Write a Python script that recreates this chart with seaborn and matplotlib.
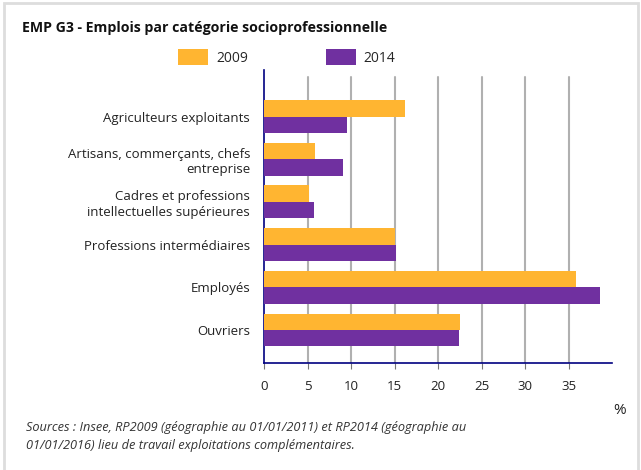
import numpy as np
import pandas as pd
import matplotlib
matplotlib.use("Agg")
import matplotlib.pyplot as plt
import seaborn as sns
from matplotlib.patches import Patch, Rectangle

categories = [
    "Agriculteurs exploitants",
    "Artisans, commerçants, chefs\nentreprise",
    "Cadres et professions\nintellectuelles supérieures",
    "Professions intermédiaires",
    "Employés",
    "Ouvriers",
]
years = ["2009", "2014"]
values_2009 = [16.2, 5.8, 5.2, 15.0, 35.9, 22.5]
values_2014 = [9.5, 9.1, 5.7, 15.2, 38.6, 22.4]
xticks = [0, 5, 10, 15, 20, 25, 30, 35]

colors = {"2009": "#FFB531", "2014": "#7030A0"}

df = pd.DataFrame({
    "categorie": categories * 2,
    "annee": ["2009"] * len(categories) + ["2014"] * len(categories),
    "valeur": values_2009 + values_2014,
})

sns.set_style("white")
plt.rcParams["font.family"] = ["Open Sans", "DejaVu Sans"]

fig = plt.figure(figsize=(6.41, 4.70), dpi=100)
ax = fig.add_axes([0.412, 0.228, 0.543, 0.623])

sns.barplot(data=df, y="categorie", x="valeur", hue="annee", palette=colors,
            orient="h", width=0.77, saturation=1, ax=ax, legend=False,
            edgecolor="none", zorder=3)

ax.set_xlim(0, 40)
ax.set_ylim(5.77, -1.09)
ax.set_xticks(xticks)
ax.set_xticklabels([str(t) for t in xticks], fontsize=9.5, color="#222222")
ax.tick_params(axis="x", length=4, width=0.8, color="#777777", pad=8, bottom=True)
ax.tick_params(axis="y", length=0, labelsize=9.5, labelcolor="#222222", pad=10)
for lab in ax.get_yticklabels():
    lab.set_linespacing(1.25)
ax.set_xlabel("")
ax.set_ylabel("")

for x in xticks[1:]:
    ax.axvline(x, ymin=0, ymax=0.975, color="#b0b0b0", lw=1.5, zorder=1)

for s in ["top", "right"]:
    ax.spines[s].set_visible(False)
ax.spines["left"].set_color("#000080")
ax.spines["bottom"].set_color("#000080")
ax.spines["left"].set_linewidth(1.2)
ax.spines["bottom"].set_linewidth(1.2)

fig.text(0.034, 0.94, "EMP G3 - Emplois par catégorie socioprofessionnelle",
         fontsize=10.2, fontweight="bold", color="#111111", va="center")

handles = [Patch(facecolor=colors[y], edgecolor="none", label=y) for y in years]
fig.legend(handles=handles, loc="center left", bbox_to_anchor=(0.2777, 0.8777),
           ncol=2, frameon=False, fontsize=10, handlelength=2.16, handleheight=1.37,
           handletextpad=0.58, columnspacing=5.6, borderpad=0, borderaxespad=0)

fig.text(0.976, 0.127, "%", fontsize=11, color="#222222", ha="right", va="center")
fig.text(0.04, 0.071,
         "Sources : Insee, RP2009 (géographie au 01/01/2011) et RP2014 (géographie au\n"
         "01/01/2016) lieu de travail exploitations complémentaires.",
         fontsize=9.2, style="italic", color="#333333", va="center", linespacing=1.55)

fig.patches.append(Rectangle((0.006, -0.1), 0.99, 1.094, transform=fig.transFigure,
                             fill=False, edgecolor="#dddddd", lw=2))

fig.savefig("out.png", dpi=100)
